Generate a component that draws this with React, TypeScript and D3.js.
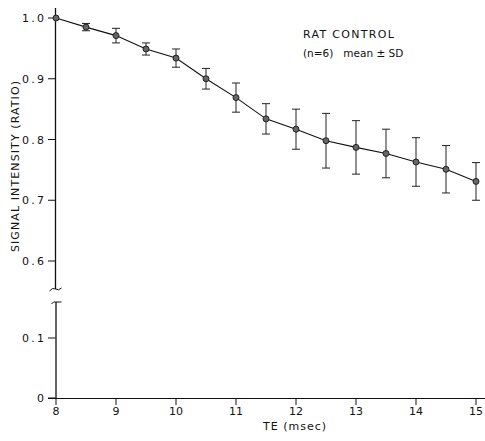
import React from "react";
import * as d3 from "d3";

const teValues = [8, 8.5, 9, 9.5, 10, 10.5, 11, 11.5, 12, 12.5, 13, 13.5, 14, 14.5, 15];
const meanValues = [1.0, 0.985, 0.971, 0.949, 0.934, 0.9, 0.869, 0.834, 0.817, 0.798, 0.787, 0.777, 0.763, 0.751, 0.731];
const sdValues = [0, 0.006, 0.012, 0.01, 0.015, 0.017, 0.024, 0.025, 0.033, 0.045, 0.044, 0.04, 0.04, 0.039, 0.031];
const xTicks = [8, 9, 10, 11, 12, 13, 14, 15];
const yTicksUpper = [1.0, 0.9, 0.8, 0.7, 0.6];
const yTicksLower = [0.1, 0];

const FONT = "'DejaVu Sans', sans-serif";

export default function App() {
  const W = 485, H = 441;
  const x = d3.scaleLinear().domain([8, 15]).range([56, 476]);
  const yU = d3.scaleLinear().domain([0.6, 1.0]).range([261, 18]);
  const yL = d3.scaleLinear().domain([0, 0.1]).range([398, 338]);
  const axisX = 55.5;
  const line = d3.line<number>().x((_, i) => x(teValues[i])).y((d) => yU(d));

  return (
    <svg width={W} height={H} style={{ position: "absolute", left: 0, top: 0, background: "#fff" }}>
      {/* y axis upper */}
      <line x1={axisX} x2={axisX} y1={8} y2={289} stroke="#111" strokeWidth={1.3} />
      <path d={`M ${axisX - 6} 291 Q ${axisX - 3} 287 ${axisX} 289 Q ${axisX + 3} 291 ${axisX + 6} 288`} fill="none" stroke="#111" strokeWidth={1} />
      {/* y axis lower */}
      <path d={`M ${axisX - 4} 304 Q ${axisX - 2} 301 ${axisX} 302 L ${axisX + 6} 302`} fill="none" stroke="#111" strokeWidth={1} />
      <line x1={axisX + 0.5} x2={axisX + 0.5} y1={302} y2={398} stroke="#111" strokeWidth={1.3} />
      {/* x axis */}
      <line x1={48} x2={485} y1={398.5} y2={398.5} stroke="#111" strokeWidth={1.2} />
      {xTicks.map((t) => (
        <g key={t}>
          <line x1={x(t)} x2={x(t)} y1={398} y2={405} stroke="#111" strokeWidth={1} />
          <text x={x(t)} y={415} textAnchor="middle" fontFamily={FONT} fontSize={11} fill="#111">{t}</text>
        </g>
      ))}
      {yTicksUpper.map((t) => (
        <g key={t}>
          <line x1={48} x2={axisX} y1={yU(t)} y2={yU(t)} stroke="#111" strokeWidth={1} />
          <text x={44} y={yU(t) + 4} textAnchor="end" fontFamily={FONT} fontSize={11} fill="#111">
            {t.toFixed(1).split("").join("\u2009")}
          </text>
        </g>
      ))}
      {yTicksLower.map((t) => (
        <g key={t}>
          <line x1={48} x2={axisX} y1={yL(t)} y2={yL(t)} stroke="#111" strokeWidth={1} />
          <text x={44} y={yL(t) + 4} textAnchor="end" fontFamily={FONT} fontSize={11} fill="#111">
            {t === 0 ? "0" : t.toFixed(1).split("").join("\u2009")}
          </text>
        </g>
      ))}
      {/* error bars */}
      {teValues.map((te, i) => sdValues[i] > 0 ? (
        <g key={"e" + te} stroke="#222" strokeWidth={1}>
          <line x1={x(te)} x2={x(te)} y1={yU(meanValues[i] + sdValues[i])} y2={yU(meanValues[i] - sdValues[i])} />
          <line x1={x(te) - 4} x2={x(te) + 4} y1={yU(meanValues[i] + sdValues[i])} y2={yU(meanValues[i] + sdValues[i])} />
          <line x1={x(te) - 4} x2={x(te) + 4} y1={yU(meanValues[i] - sdValues[i])} y2={yU(meanValues[i] - sdValues[i])} />
        </g>
      ) : null)}
      <path d={line(meanValues) || ""} fill="none" stroke="#111" strokeWidth={1.1} />
      {teValues.map((te, i) => (
        <circle key={"c" + te} cx={x(te)} cy={yU(meanValues[i])} r={3} fill="#666" stroke="#222" strokeWidth={1} />
      ))}
      {/* legend */}
      <text x={303} y={38} fontFamily={FONT} fontSize={11} letterSpacing={1.3} fill="#111">RAT CONTROL</text>
      <text x={303} y={57} fontFamily={FONT} fontSize={10.5} fill="#111" xmlSpace="preserve">(n=6)   mean ± SD</text>
      {/* axis labels */}
      <text x={295} y={430} textAnchor="middle" fontFamily={FONT} fontSize={11} letterSpacing={1} fill="#111" xmlSpace="preserve">TE (msec)</text>
      <text transform="translate(19,166) rotate(-90)" textAnchor="middle" fontFamily={FONT} fontSize={11} letterSpacing={1.1} fill="#111">SIGNAL INTENSITY (RATIO)</text>
    </svg>
  );
}
